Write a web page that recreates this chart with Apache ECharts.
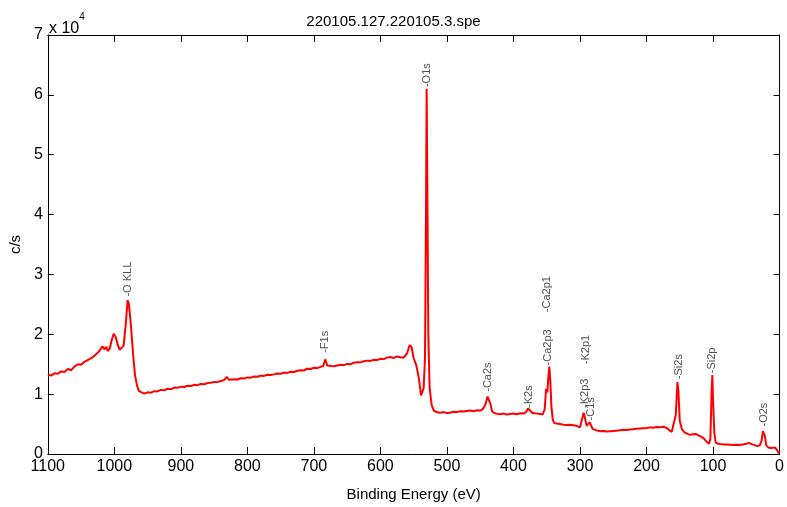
<!DOCTYPE html>
<html>
<head>
<meta charset="utf-8">
<script src="https://cdn.jsdelivr.net/npm/echarts@6/dist/echarts.min.js"></script>
<style>
  html, body { margin: 0; padding: 0; background: #fff; }
  #main { width: 787px; height: 507px; }
</style>
</head>
<body>
<div id="main"></div>
<script>
// binding energy (eV) and counts per second
const energy = [
  1100, 1095, 1090, 1085, 1080, 1075, 1070, 1065, 1060, 1055, 1050, 1045, 1040, 1035, 1030, 1025,
  1020, 1018, 1015, 1012, 1010, 1007, 1004, 1001, 998, 995, 992, 989, 986, 983, 980, 978, 975, 972,
  969, 966, 963, 960, 955, 950, 945, 940, 935, 930, 925, 920, 915, 910, 905, 900, 895, 890, 885, 880,
  875, 870, 865, 860, 855, 850, 845, 840, 835, 831, 828, 825, 820, 815, 810, 805, 800, 795, 790, 785,
  780, 775, 770, 765, 760, 755, 750, 745, 740, 735, 730, 725, 720, 715, 710, 705, 700, 695, 690, 686,
  683, 680, 677, 674, 670, 665, 660, 655, 650, 645, 640, 635, 630, 625, 620, 615, 610, 605, 600, 595,
  590, 585, 580, 575, 570, 565, 560, 556, 553, 550, 546, 542, 539, 537, 535, 533, 531.5, 530.5, 529.5,
  528, 526, 523, 520, 516, 510, 505, 500, 495, 490, 485, 480, 475, 470, 465, 460, 455, 450, 446, 442,
  439, 437, 435, 432, 428, 424, 420, 415, 410, 405, 400, 395, 390, 385, 381, 378, 375, 372, 368, 364,
  360, 356, 353, 351, 349, 347.5, 346, 344.5, 343, 341, 339, 335, 330, 325, 320, 315, 310, 305, 300,
  297, 294.5, 292.5, 290, 288, 285.5, 283.5, 281, 278, 275, 270, 265, 260, 255, 250, 245, 240, 235,
  230, 225, 220, 215, 210, 205, 200, 195, 190, 185, 180, 175, 170, 166, 162, 159, 156, 153.5, 152, 150,
  147, 143, 140, 135, 130, 126, 122, 118, 114, 110, 106, 104, 102, 101, 100, 98, 96, 92, 88, 84, 80,
  75, 70, 65, 60, 55, 50, 46, 44, 41, 38, 34, 30, 27, 25, 24, 22, 20, 17, 13, 10, 7, 4, 2, 0
];
const counts = [
  13300, 13100, 13500, 13400, 13800, 13700, 14200, 14000, 14600, 15000, 14900, 15400, 15700, 16000, 16400, 16900,
  17600, 18000, 17500, 17900, 17200, 17600, 19000, 20100, 19600, 18300, 17400, 17200, 18100, 21500, 25700, 25000, 21500, 17000,
  13200, 11500, 10500, 10200, 10100, 10300, 10250, 10500, 10450, 10700, 10650, 10900, 10800, 11100, 11050, 11250, 11200, 11400, 11350, 11550,
  11500, 11700, 11650, 11850, 11900, 12050, 12000, 12200, 12350, 12900, 12400, 12200, 12500, 12450, 12650, 12600, 12800, 12750, 12950, 12900,
  13100, 13050, 13250, 13200, 13300, 13450, 13400, 13600, 13550, 13750, 13700, 13900, 14000, 13950, 14250, 14200, 14400, 14350, 14550, 14700,
  15800, 14800, 14500, 14700, 14650, 14800, 14900, 14850, 15050, 15000, 15250, 15350, 15300, 15500, 15600, 15550, 15750, 15700, 15900, 15850,
  16100, 16200, 16050, 16300, 16150, 16100, 16800, 18200, 17800, 16000, 14800, 12500, 9800, 9600, 11000, 16000, 40000, 61000, 45000,
  20000, 11000, 8200, 7300, 7000, 6900, 7000, 6850, 6900, 7050, 7000, 7150, 7100, 7200, 7250, 7150, 7300, 7250, 7500, 8300,
  9600, 9800, 8500, 7100, 6800, 6700, 6650, 6750, 6600, 6700, 6750, 6650, 6800, 6750, 7000, 7600, 7300, 6900, 6800, 6750,
  6700, 6600, 7500, 10900, 10300, 13000, 14600, 12000, 8000, 5800, 5200, 5100, 5000, 4900, 4850, 4900, 4800, 4700, 4450,
  4600, 6900, 6000, 4700, 4600, 5300, 5100, 4200, 4000, 3950, 3800, 3850, 3750, 3800, 3850, 3900, 3950, 4050,
  4000, 4100, 4150, 4200, 4250, 4300, 4350, 4450, 4400, 4500, 4450, 4550, 4400, 4000, 3700, 4000, 6500, 12000, 10500, 5500,
  4200, 3600, 3300, 3200, 3300, 3350, 3100, 2900, 2600, 2100, 1700, 2500, 11000, 13200, 9000, 3500, 1900, 1700, 1650, 1600, 1600,
  1550, 1500, 1550, 1500, 1600, 1700, 1850, 2000, 1600, 1400, 1350, 1400, 2200, 3800, 4100, 3000, 1500, 1100, 1000, 1050, 1100, 700, 300, 100
];

// peak annotations: name, energy, counts at the foot of the label
const peakNames = ['O KLL', 'O1s', 'F1s', 'Ca2s', 'K2s', 'Ca2p3', 'Ca2p1', 'K2p1', 'K2p3', 'C1s', 'Si2s', 'Si2p', 'O2s'];
const peakEnergy = [980, 530.5, 683, 437.6, 376, 347.7, 349, 291, 292.5, 283, 151, 102, 24];
const peakLabelY = [26300, 61300, 16900, 10400, 7700, 14800, 23700, 15000, 7700, 5600, 12500, 13500, 4600];

const xTicks = [0, 1100, 100];
const yTicks = [0, 70000, 10000];

const myChart = echarts.init(document.getElementById('main'));

const font = 'Liberation Sans, Arial, sans-serif';
const line = energy.map((e, i) => [e, counts[i]]);
const marks = peakNames.map((n, i) => ({ value: [peakEnergy[i], peakLabelY[i]], name: n }));

const frameLine = { show: true, onZero: false, lineStyle: { color: '#000', width: 1 } };
const frameTick = len => ({ show: true, inside: true, length: len, lineStyle: { color: '#000' } });

const option = {
  animation: false,
  backgroundColor: '#fff',
  title: {
    text: '220105.127.220105.3.spe',
    left: 'center',
    top: 9,
    textStyle: { fontFamily: font, fontSize: 15, fontWeight: 'normal', color: '#000' }
  },
  grid: { left: 47, right: 6, top: 35, bottom: 47 },
  graphic: [
    {
      type: 'text', left: 49, top: 12,
      style: {
        text: '{a|x 10}{b|4}',
        rich: {
          a: { fontFamily: font, fontSize: 16, color: '#000', padding: [9, 0, 0, 0] },
          b: { fontFamily: font, fontSize: 10, color: '#000', verticalAlign: 'top' }
        }
      }
    }
  ],
  xAxis: [
    {
      type: 'value', inverse: true,
      min: xTicks[0], max: xTicks[1], interval: xTicks[2],
      name: 'Binding Energy (eV)', nameLocation: 'middle', nameGap: 33,
      nameTextStyle: { fontFamily: font, fontSize: 15, color: '#000' },
      axisLine: frameLine,
      axisTick: frameTick(7),
      axisLabel: { fontFamily: font, fontSize: 16, color: '#000', margin: 5, formatter: v => String(v) },
      splitLine: { show: false }
    },
    {
      type: 'value', inverse: true, position: 'top',
      min: xTicks[0], max: xTicks[1], interval: xTicks[2],
      axisLine: frameLine,
      axisTick: frameTick(7),
      axisLabel: { show: false },
      splitLine: { show: false }
    }
  ],
  yAxis: [
    {
      type: 'value',
      min: yTicks[0], max: yTicks[1], interval: yTicks[2],
      name: 'c/s', nameLocation: 'middle', nameGap: 24,
      nameTextStyle: { fontFamily: font, fontSize: 15, color: '#000' },
      axisLine: frameLine,
      axisTick: frameTick(6),
      axisLabel: { fontFamily: font, fontSize: 16, color: '#000', margin: 5, formatter: v => String(v / 10000) },
      splitLine: { show: false }
    },
    {
      type: 'value', position: 'right',
      min: yTicks[0], max: yTicks[1], interval: yTicks[2],
      axisLine: frameLine,
      axisTick: frameTick(6),
      axisLabel: { show: false },
      splitLine: { show: false }
    }
  ],
  series: [
    {
      type: 'line',
      data: line,
      showSymbol: false,
      lineStyle: { color: '#ff0000', width: 2 },
      z: 3
    },
    {
      type: 'scatter',
      data: marks,
      symbolSize: 1,
      itemStyle: { color: 'rgba(0,0,0,0)' },
      label: {
        show: true,
        position: 'inside',
        align: 'left',
        verticalAlign: 'middle',
        rotate: 90,
        formatter: p => '-' + p.name,
        fontFamily: font,
        fontSize: 11,
        color: '#222'
      },
      z: 4
    }
  ]
};

option && myChart.setOption(option);
</script>
</body>
</html>
